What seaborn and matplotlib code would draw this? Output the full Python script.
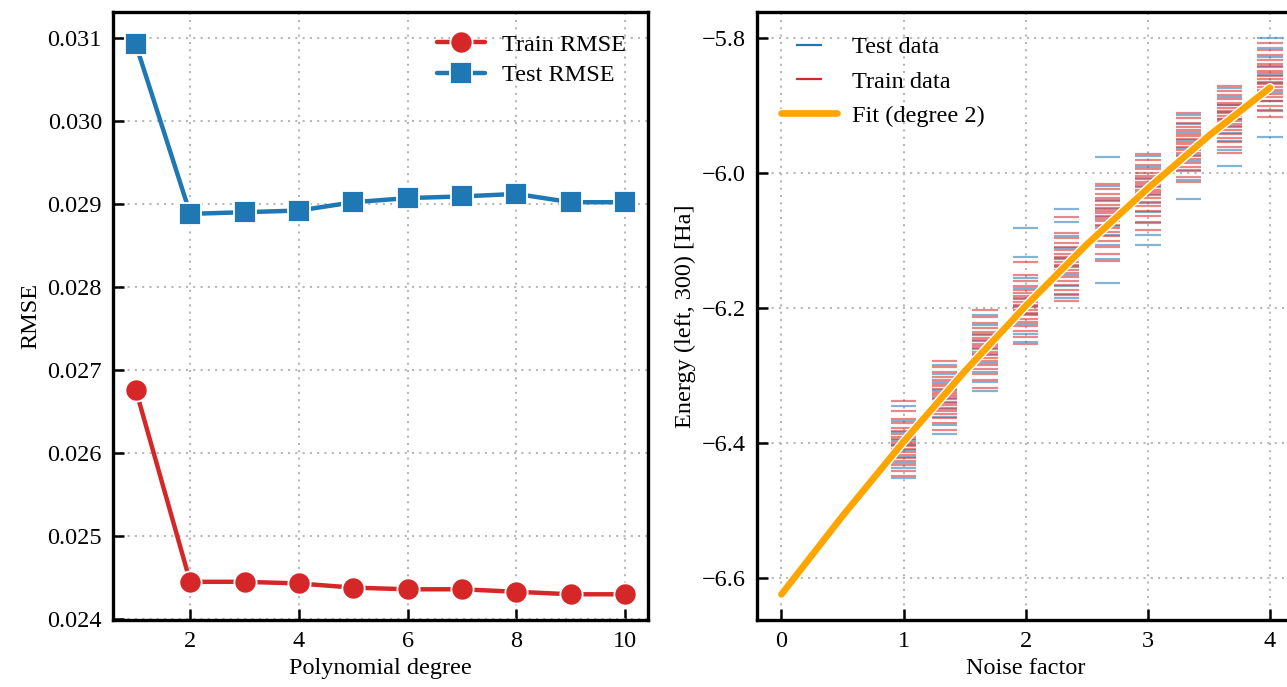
import numpy as np
import pandas as pd
import matplotlib
matplotlib.use("Agg")
import matplotlib.pyplot as plt
import matplotlib.patheffects as pe
import seaborn as sns

# ---------------- data ----------------
degrees = [1, 2, 3, 4, 5, 6, 7, 8, 9, 10]
train_rmse = [0.02676, 0.02445, 0.02445, 0.02443, 0.02438, 0.02436, 0.02436, 0.02433, 0.02430, 0.02430]
test_rmse = [0.03092, 0.02888, 0.02890, 0.02892, 0.02902, 0.02907, 0.02909, 0.02912, 0.02902, 0.02902]

noise_levels = [1.0, 4 / 3, 5 / 3, 2.0, 7 / 3, 8 / 3, 3.0, 10 / 3, 11 / 3, 4.0]
train_energy = [
    [-6.338, -6.352, -6.365, -6.371, -6.378, -6.382, -6.386, -6.391, -6.394, -6.398,
     -6.401, -6.405, -6.409, -6.413, -6.418, -6.422, -6.427, -6.432, -6.441, -6.449],
    [-6.279, -6.288, -6.295, -6.302, -6.307, -6.312, -6.316, -6.320, -6.324, -6.328,
     -6.331, -6.335, -6.339, -6.343, -6.348, -6.352, -6.357, -6.363, -6.370, -6.381],
    [-6.203, -6.214, -6.222, -6.229, -6.235, -6.240, -6.245, -6.249, -6.253, -6.257,
     -6.261, -6.265, -6.270, -6.274, -6.279, -6.285, -6.291, -6.298, -6.307, -6.318],
    [-6.132, -6.152, -6.160, -6.167, -6.173, -6.178, -6.183, -6.187, -6.191, -6.195,
     -6.199, -6.203, -6.207, -6.211, -6.216, -6.221, -6.227, -6.234, -6.243, -6.253],
    [-6.066, -6.089, -6.097, -6.104, -6.110, -6.115, -6.120, -6.124, -6.128, -6.132,
     -6.136, -6.140, -6.144, -6.149, -6.154, -6.160, -6.166, -6.173, -6.181, -6.190],
    [-6.016, -6.024, -6.031, -6.037, -6.042, -6.047, -6.052, -6.056, -6.060, -6.064,
     -6.068, -6.072, -6.077, -6.082, -6.088, -6.094, -6.101, -6.110, -6.120, -6.130],
    [-5.972, -5.981, -5.989, -5.995, -6.000, -6.005, -6.009, -6.013, -6.017, -6.021,
     -6.025, -6.029, -6.033, -6.038, -6.043, -6.049, -6.056, -6.064, -6.073, -6.084],
    [-5.912, -5.919, -5.926, -5.932, -5.937, -5.942, -5.946, -5.950, -5.954, -5.958,
     -5.962, -5.966, -5.970, -5.975, -5.980, -5.985, -5.991, -5.998, -6.006, -6.014],
    [-5.872, -5.879, -5.885, -5.891, -5.896, -5.900, -5.904, -5.908, -5.912, -5.916,
     -5.920, -5.924, -5.928, -5.932, -5.937, -5.942, -5.948, -5.955, -5.962, -5.970],
    [-5.808, -5.818, -5.826, -5.833, -5.839, -5.844, -5.849, -5.853, -5.857, -5.861,
     -5.865, -5.869, -5.873, -5.878, -5.883, -5.888, -5.894, -5.901, -5.909, -5.918],
]
test_energy = [
    [-6.345, -6.368, -6.384, -6.396, -6.403, -6.411, -6.420, -6.430, -6.437, -6.452],
    [-6.284, -6.298, -6.310, -6.322, -6.333, -6.341, -6.350, -6.361, -6.374, -6.387],
    [-6.210, -6.226, -6.238, -6.247, -6.259, -6.268, -6.281, -6.295, -6.310, -6.323],
    [-6.081, -6.124, -6.155, -6.170, -6.185, -6.197, -6.209, -6.224, -6.238, -6.250],
    [-6.053, -6.073, -6.094, -6.112, -6.126, -6.138, -6.151, -6.168, -6.179, -6.186],
    [-5.976, -6.020, -6.040, -6.054, -6.066, -6.079, -6.092, -6.107, -6.127, -6.163],
    [-5.975, -5.992, -6.007, -6.019, -6.031, -6.045, -6.058, -6.075, -6.092, -6.107],
    [-5.915, -5.928, -5.940, -5.952, -5.964, -5.973, -5.983, -5.996, -6.010, -6.039],
    [-5.875, -5.888, -5.899, -5.910, -5.921, -5.931, -5.941, -5.953, -5.966, -5.990],
    [-5.801, -5.815, -5.829, -5.842, -5.855, -5.867, -5.880, -5.893, -5.907, -5.947],
]
fit_x = [0.0, 0.5, 1.0, 1.5, 2.0, 2.5, 3.0, 3.5, 4.0]
fit_energy = [-6.624, -6.508, -6.398, -6.294, -6.197, -6.106, -6.023, -5.945, -5.874]

# ---------------- style ----------------
sns.set_style("ticks", {"axes.edgecolor": "black", "xtick.color": "black",
                        "ytick.color": "black", "text.color": "black",
                        "axes.labelcolor": "black"})
plt.rcParams["font.family"] = ["Liberation Serif", "DejaVu Serif"]
FS = 17.5
plt.rcParams["font.size"] = FS

RED = "#d62728"
BLUE = "#1f77b4"
ORANGE = "#ffa500"

fig = plt.figure(figsize=(12.87, 6.87), dpi=100)
ax1 = fig.add_axes([0.0878, 0.0975, 0.4157, 0.885])
ax2 = fig.add_axes([0.5882, 0.0975, 0.4176, 0.885])

# ---------------- left panel ----------------
rmse_df = pd.DataFrame({
    "degree": degrees * 2,
    "rmse": train_rmse + test_rmse,
    "kind": ["Train RMSE"] * len(degrees) + ["Test RMSE"] * len(degrees),
})
sns.lineplot(
    data=rmse_df, x="degree", y="rmse", hue="kind", style="kind",
    palette={"Train RMSE": RED, "Test RMSE": BLUE},
    markers={"Train RMSE": "o", "Test RMSE": "s"}, dashes=False,
    linewidth=3.2, markersize=16, markeredgecolor="white", markeredgewidth=1.3,
    ax=ax1,
)
ax1.set_xlabel("Polynomial degree")
ax1.set_ylabel("RMSE")
ax1.set_xticks([2, 4, 6, 8, 10])
ax1.set_yticks([0.024, 0.025, 0.026, 0.027, 0.028, 0.029, 0.030, 0.031])
ax1.set_xlim(0.58, 10.42)
ax1.set_ylim(0.02399, 0.03131)
ax1.legend(loc="upper right", frameon=False, fontsize=FS, handlelength=2.0,
           borderaxespad=0.5, labelspacing=0.35, handletextpad=0.7)

# ---------------- right panel ----------------
rows = []
for x, vals in zip(noise_levels, test_energy):
    for v in vals:
        rows.append((x, v, "Test data"))
for x, vals in zip(noise_levels, train_energy):
    for v in vals:
        rows.append((x, v, "Train data"))
energy_df = pd.DataFrame(rows, columns=["noise", "energy", "set"])

sns.scatterplot(
    data=energy_df, x="noise", y="energy", hue="set",
    palette={"Test data": BLUE, "Train data": RED},
    marker="_", s=330, linewidth=1.6, alpha=0.55, ax=ax2,
)
sns.lineplot(x=fit_x, y=fit_energy, color=ORANGE, linewidth=4.8,
             label="Fit (degree 2)", ax=ax2,
             path_effects=[pe.Stroke(linewidth=6.8, foreground="white"), pe.Normal()])
ax2.set_xlabel("Noise factor")
ax2.set_ylabel("Energy (left, 300) [Ha]")
ax2.set_xticks([0, 1, 2, 3, 4])
ax2.set_yticks([-6.6, -6.4, -6.2, -6.0, -5.8])
ax2.set_xlim(-0.2, 4.2)
ax2.set_ylim(-6.662, -5.762)
handles, labels = ax2.get_legend_handles_labels()
leg = ax2.legend(handles, labels, loc="upper left", frameon=False, fontsize=FS,
                 handlelength=2.3, borderaxespad=0.6, labelspacing=0.5,
                 handletextpad=0.6)
for h in leg.legend_handles[:2]:
    h.set_alpha(1)
    h.set_linewidth(3)
    try:
        h.set_sizes([300])
    except AttributeError:
        pass

for ax in (ax1, ax2):
    ax.grid(True, linestyle=(0, (1, 2.5)), color="#b8b8b8", linewidth=1.5)
    ax.tick_params(direction="in", length=8, width=1.8, labelsize=FS,
                   top=False, right=False, pad=8, colors="black")
    for sp in ax.spines.values():
        sp.set_linewidth(2.4)
        sp.set_color("black")
        sp.set_visible(True)
    ax.xaxis.label.set_size(FS)
    ax.yaxis.label.set_size(FS)

fig.savefig("out.png", dpi=100)
